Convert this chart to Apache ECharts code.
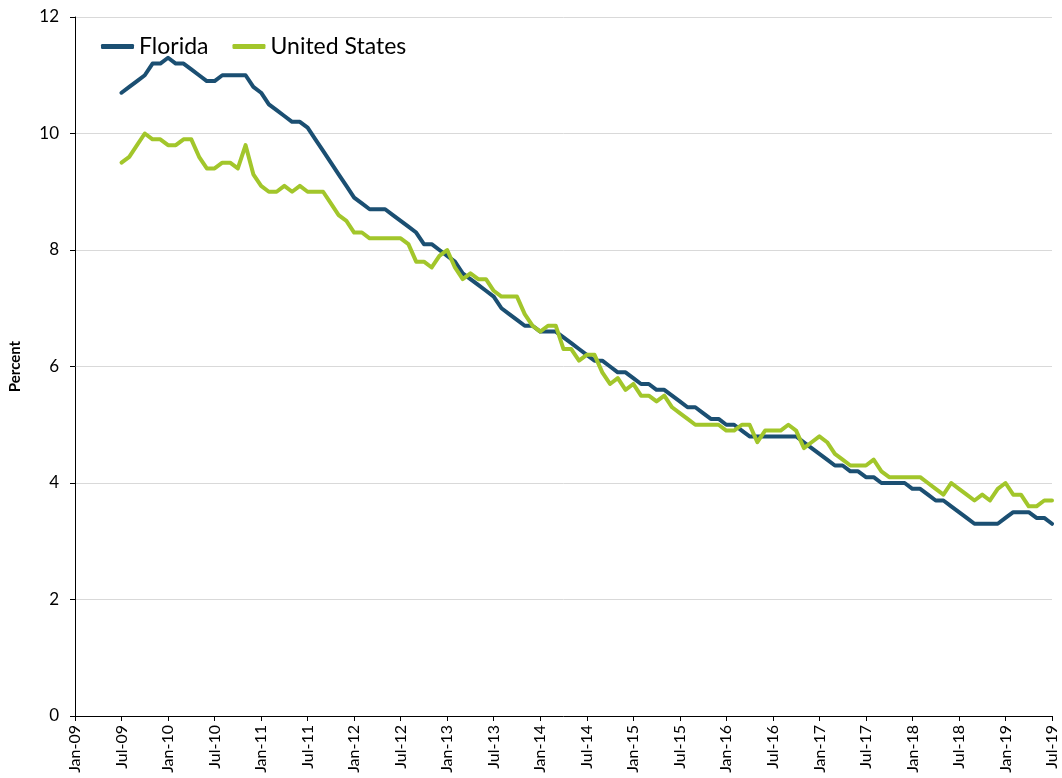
<!DOCTYPE html>
<html>
<head>
<meta charset="utf-8">
<title>Unemployment rate: Florida and United States</title>
<script src="https://cdn.jsdelivr.net/npm/echarts@6/dist/echarts.min.js"></script>
<style>
html, body { margin: 0; padding: 0; background: #fff; }
#chart { width: 1062px; height: 778px; }
</style>
</head>
<body>
<div id="chart"></div>
<script>
// axis runs Jan-09 .. Jul-19, data starts Jul-09
var monthNames = ['Jan','Feb','Mar','Apr','May','Jun','Jul','Aug','Sep','Oct','Nov','Dec'];
var firstYear = 2009, lastYear = 2019, lastMonth = 6;
var leadMonths = 6; // Jan-09..Jun-09 have no data

var floridaRate = [
    10.7, 10.8, 10.9, 11.0, 11.2, 11.2,
    11.3, 11.2, 11.2, 11.1, 11.0, 10.9, 10.9, 11.0, 11.0, 11.0, 11.0, 10.8,
    10.7, 10.5, 10.4, 10.3, 10.2, 10.2, 10.1, 9.9, 9.7, 9.5, 9.3, 9.1,
    8.9, 8.8, 8.7, 8.7, 8.7, 8.6, 8.5, 8.4, 8.3, 8.1, 8.1, 8.0,
    7.9, 7.8, 7.6, 7.5, 7.4, 7.3, 7.2, 7.0, 6.9, 6.8, 6.7, 6.7,
    6.6, 6.6, 6.6, 6.5, 6.4, 6.3, 6.2, 6.1, 6.1, 6.0, 5.9, 5.9,
    5.8, 5.7, 5.7, 5.6, 5.6, 5.5, 5.4, 5.3, 5.3, 5.2, 5.1, 5.1,
    5.0, 5.0, 4.9, 4.8, 4.8, 4.8, 4.8, 4.8, 4.8, 4.8, 4.7, 4.6,
    4.5, 4.4, 4.3, 4.3, 4.2, 4.2, 4.1, 4.1, 4.0, 4.0, 4.0, 4.0,
    3.9, 3.9, 3.8, 3.7, 3.7, 3.6, 3.5, 3.4, 3.3, 3.3, 3.3, 3.3,
    3.4, 3.5, 3.5, 3.5, 3.4, 3.4, 3.3
];
var usRate = [
    9.5, 9.6, 9.8, 10.0, 9.9, 9.9,
    9.8, 9.8, 9.9, 9.9, 9.6, 9.4, 9.4, 9.5, 9.5, 9.4, 9.8, 9.3,
    9.1, 9.0, 9.0, 9.1, 9.0, 9.1, 9.0, 9.0, 9.0, 8.8, 8.6, 8.5,
    8.3, 8.3, 8.2, 8.2, 8.2, 8.2, 8.2, 8.1, 7.8, 7.8, 7.7, 7.9,
    8.0, 7.7, 7.5, 7.6, 7.5, 7.5, 7.3, 7.2, 7.2, 7.2, 6.9, 6.7,
    6.6, 6.7, 6.7, 6.3, 6.3, 6.1, 6.2, 6.2, 5.9, 5.7, 5.8, 5.6,
    5.7, 5.5, 5.5, 5.4, 5.5, 5.3, 5.2, 5.1, 5.0, 5.0, 5.0, 5.0,
    4.9, 4.9, 5.0, 5.0, 4.7, 4.9, 4.9, 4.9, 5.0, 4.9, 4.6, 4.7,
    4.8, 4.7, 4.5, 4.4, 4.3, 4.3, 4.3, 4.4, 4.2, 4.1, 4.1, 4.1,
    4.1, 4.1, 4.0, 3.9, 3.8, 4.0, 3.9, 3.8, 3.7, 3.8, 3.7, 3.9,
    4.0, 3.8, 3.8, 3.6, 3.6, 3.7, 3.7
];

var months = [];
for (var y = firstYear; y <= lastYear; y++) {
    for (var m = 0; m < 12; m++) {
        if (y == lastYear && m > lastMonth) break;
        months.push(monthNames[m] + '-' + String(y).slice(2));
    }
}
function padded(arr) {
    var out = [];
    for (var i = 0; i < leadMonths; i++) out.push(null);
    return out.concat(arr);
}

var FONT = 'Lato, "Open Sans", sans-serif';
var chart = echarts.init(document.getElementById('chart'));
chart.setOption({
    backgroundColor: '#fff',
    animation: false,
    grid: { left: 71, right: 10, top: 17, bottom: 62 },
    legend: {
        left: 96, top: 30,
        icon: 'roundRect',
        itemWidth: 33, itemHeight: 5, itemGap: 24,
        textStyle: { fontFamily: FONT, fontSize: 23, color: '#000' },
        data: ['Florida', 'United States']
    },
    xAxis: {
        type: 'category',
        boundaryGap: false,
        data: months,
        axisLine: { lineStyle: { color: '#000', width: 1 } },
        axisTick: { length: 5, interval: function (i) { return i % 6 == 0; }, lineStyle: { color: '#000' } },
        axisLabel: {
            rotate: 90, margin: 9,
            interval: function (i) { return i % 6 == 0; },
            fontFamily: FONT, fontSize: 16, color: '#000'
        },
        splitLine: { show: false }
    },
    yAxis: {
        type: 'value',
        min: 0, max: 12, interval: 2,
        name: 'Percent',
        nameLocation: 'middle',
        nameGap: 52,
        nameTextStyle: { fontFamily: FONT, fontSize: 15, fontWeight: 'bold', color: '#000' },
        axisLine: { show: true, lineStyle: { color: '#000', width: 1 } },
        axisTick: { show: true, length: 5, lineStyle: { color: '#000' } },
        axisLabel: { margin: 16, fontFamily: FONT, fontSize: 17, color: '#000' },
        splitLine: { lineStyle: { color: '#d9d9d9', width: 1 } }
    },
    series: [
        {
            name: 'Florida', type: 'line', symbol: 'none',
            data: padded(floridaRate),
            itemStyle: { color: '#1b4f72' },
            lineStyle: { color: '#1b4f72', width: 4, join: 'round', cap: 'round' }
        },
        {
            name: 'United States', type: 'line', symbol: 'none',
            data: padded(usRate),
            itemStyle: { color: '#a2c62b' },
            lineStyle: { color: '#a2c62b', width: 4, join: 'round', cap: 'round' }
        }
    ]
});
</script>
</body>
</html>
